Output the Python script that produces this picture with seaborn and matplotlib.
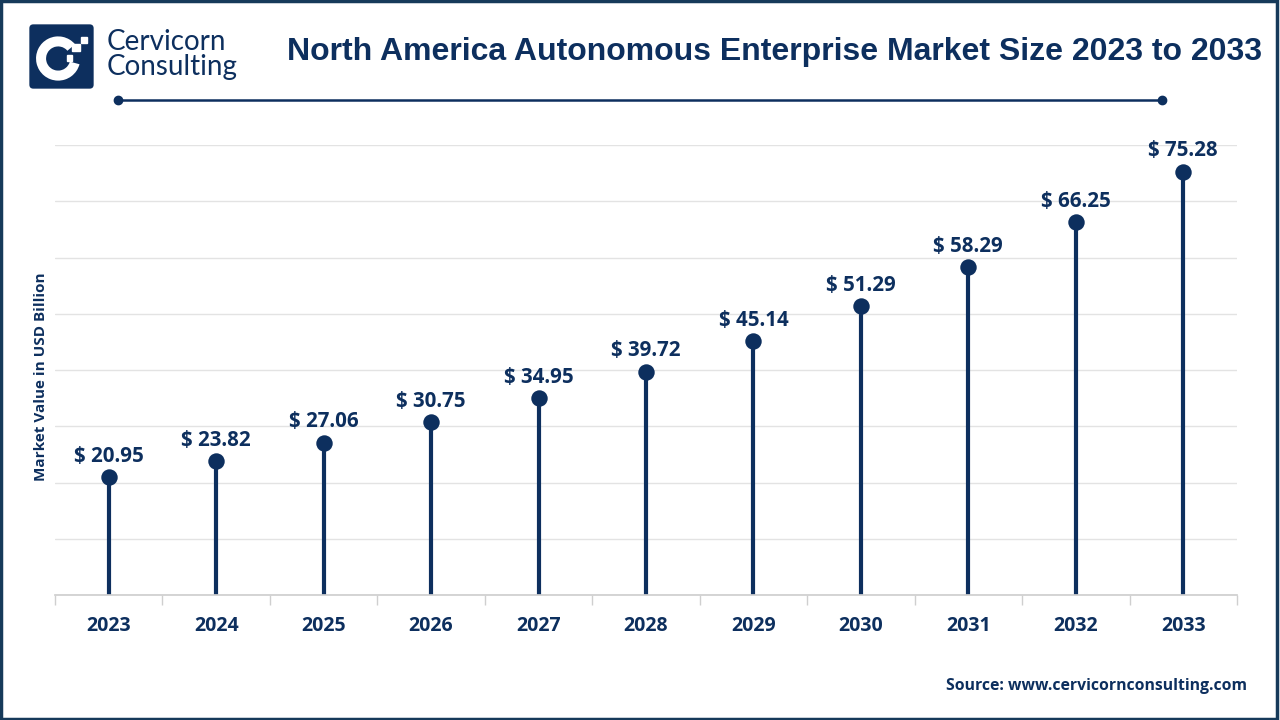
import matplotlib
matplotlib.use("Agg")
import matplotlib.pyplot as plt
import matplotlib.patches as mpatches
from matplotlib.lines import Line2D
import seaborn as sns
import pandas as pd

years = ["2023", "2024", "2025", "2026", "2027", "2028", "2029", "2030", "2031", "2032", "2033"]
values = [20.95, 23.82, 27.06, 30.75, 34.95, 39.72, 45.14, 51.29, 58.29, 66.25, 75.28]

NAVY = "#0d2f5e"

df = pd.DataFrame({"year": years, "value": values})
df["pos"] = range(len(df))

sns.set_theme(style="white")
plt.rcParams["font.family"] = ["Liberation Sans", "DejaVu Sans"]

fig = plt.figure(figsize=(12.8, 7.2), dpi=100)
ax = fig.add_axes([55 / 1280, 125 / 720, 1182 / 1280, 450 / 720])

# stems + dots
ax.vlines(df["pos"], 0, df["value"], color=NAVY, linewidth=3, zorder=2)
sns.scatterplot(data=df, x="pos", y="value", ax=ax, color=NAVY, s=140,
                edgecolor=NAVY, linewidth=0, zorder=3, legend=False)

for p, v in zip(df["pos"], df["value"]):
    ax.annotate(f"$ {v:.2f}", (p, v), xytext=(0, 7.5), textcoords="offset points",
                ha="center", va="bottom", fontsize=14.8, fontweight="bold",
                color=NAVY, family=["Open Sans", "DejaVu Sans"])

ax.set_xlim(-0.5, len(years) - 0.5)
ax.set_ylim(0, 80)
ax.set_yticks(range(0, 81, 10))
ax.set_yticklabels([])
ax.tick_params(axis="y", length=0)
ax.yaxis.grid(True, color="#e3e3e3", linewidth=1)
ax.xaxis.grid(False)
ax.set_xticks(df["pos"])
ax.set_xticklabels(years, fontsize=14, fontweight="bold", color=NAVY,
                   family=["Open Sans", "DejaVu Sans"])
ax.set_xticks([i - 0.5 for i in range(len(years) + 1)], minor=True)
ax.tick_params(axis="x", which="major", length=0, pad=15)
ax.tick_params(axis="x", which="minor", length=7, color="#cfcfcf", width=1, direction="out")
ax.tick_params(axis="x", which="minor", bottom=True)
for s in ["top", "right", "left"]:
    ax.spines[s].set_visible(False)
ax.spines["bottom"].set_color("#cfcfcf")
ax.set_xlabel("")
ax.set_ylabel("Market Value in USD Billion", fontsize=11, fontweight="bold", color=NAVY,
              family=["Open Sans", "DejaVu Sans"])
ax.yaxis.set_label_coords(-0.006, 0.485)

# title and decorations
fig.text(1262 / 1280, 1 - 52 / 720, "North America Autonomous Enterprise Market Size 2023 to 2033",
         ha="right", va="center", fontsize=23, fontweight="bold", color=NAVY)
fig.add_artist(Line2D([118 / 1280, 1162 / 1280], [1 - 100 / 720, 1 - 100 / 720],
                      color=NAVY, linewidth=1.8, marker="o", markersize=6, markevery=[0, 1]))
fig.text(1247 / 1280, 1 - 686 / 720, "Source: www.cervicornconsulting.com",
         ha="right", va="center", fontsize=11.3, fontweight="bold", color=NAVY,
         family=["Open Sans", "DejaVu Sans"])

# logo
lax = fig.add_axes([28 / 1280, 1 - 90 / 720, 67 / 1280, 67 / 720])
lax.set_xlim(0, 1)
lax.set_ylim(0, 1)
lax.axis("off")
lax.add_patch(mpatches.FancyBboxPatch((0.02, 0.02), 0.96, 0.96,
                                      boxstyle="round,pad=0,rounding_size=0.06",
                                      facecolor=NAVY, edgecolor="none"))
lax.add_patch(mpatches.Wedge((0.45, 0.47), 0.33, 40, 345, width=0.15,
                             facecolor="white", edgecolor="none"))
lax.add_patch(mpatches.Rectangle((0.66, 0.58), 0.11, 0.11, facecolor="white"))
lax.add_patch(mpatches.Rectangle((0.79, 0.70), 0.09, 0.09, facecolor="white"))
lax.add_patch(mpatches.Rectangle((0.58, 0.44), 0.08, 0.08, facecolor="white"))
fig.text(107 / 1280, 1 - 42 / 720, "Cervicorn", ha="left", va="center",
         fontsize=20, color=NAVY, family=["Lato", "DejaVu Sans"])
fig.text(107 / 1280, 1 - 67 / 720, "Consulting", ha="left", va="center",
         fontsize=20, color=NAVY, family=["Lato", "DejaVu Sans"])

# outer frame
fig.add_artist(mpatches.Rectangle((0.001, 0.002), 0.997, 0.996, transform=fig.transFigure,
                                  fill=False, edgecolor="#163a5a", linewidth=2.5))

fig.savefig("out.png", dpi=100, facecolor="white")
